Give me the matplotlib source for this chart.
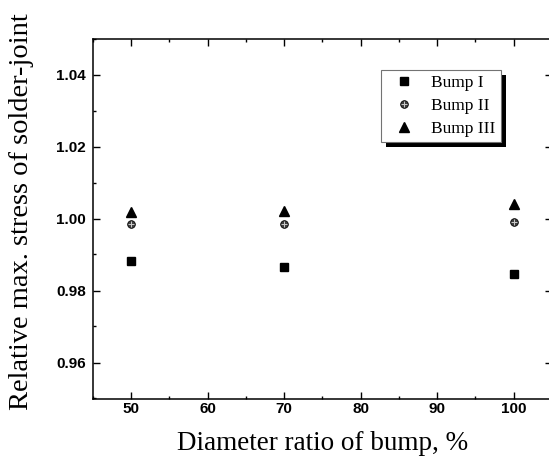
import matplotlib
matplotlib.use("Agg")
import matplotlib.pyplot as plt
from matplotlib.ticker import MultipleLocator
from matplotlib.patches import Rectangle
from matplotlib.transforms import IdentityTransform
from matplotlib.legend_handler import HandlerTuple

# ---- data ----
diameter_ratio = [50, 70, 100]
bump1 = [0.9883, 0.9865, 0.9845]
bump2 = [0.9985, 0.9985, 0.9989]
bump3 = [1.0018, 1.0022, 1.0040]
series_labels = ["Bump I", "Bump II", "Bump III"]
x_ticks = [50, 60, 70, 80, 90, 100]
y_ticks = [0.96, 0.98, 1.00, 1.02, 1.04]
x_label = "Diameter ratio of bump, %"
y_label = "Relative max. stress of solder-joint"

W, H = 549, 457
fig = plt.figure(figsize=(W / 100, H / 100), dpi=100)
ax = fig.add_axes([92.8 / W, (H - 398.5) / H, (552 - 92.8) / W, 360 / H])

ms = 5.5
h1, = ax.plot(diameter_ratio, bump1, linestyle="none", marker="s", ms=ms,
              color="black", mec="black")
h2a, = ax.plot(diameter_ratio, bump2, linestyle="none", marker="o", ms=ms,
               mfc="0.25", mec="black", mew=0.6)
h2b, = ax.plot(diameter_ratio, bump2, linestyle="none", marker="+", ms=ms * 0.8,
               mec="0.8", mew=0.7)
h3, = ax.plot(diameter_ratio, bump3, linestyle="none", marker="^", ms=ms + 1,
              color="black", mec="black")

ax.set_xlim(45, 105)
ax.set_ylim(0.95, 1.05)
ax.set_xticks(x_ticks)
ax.set_yticks(y_ticks)
ax.set_yticklabels([f"{v:.2f}" for v in y_ticks])
ax.xaxis.set_minor_locator(MultipleLocator(5))
ax.yaxis.set_minor_locator(MultipleLocator(0.01))
ax.tick_params(which="both", direction="in", top=True, right=True, width=1.0)
ax.tick_params(which="major", length=5)
ax.tick_params(which="minor", length=2.5)
ax.tick_params(axis="x", which="major", pad=2.5)
ax.tick_params(axis="y", which="major", pad=5)
for lab in ax.get_xticklabels() + ax.get_yticklabels():
    lab.set_fontfamily("Liberation Sans")
    lab.set_fontweight("bold")
    lab.set_fontsize(11)
for s in ax.spines.values():
    s.set_linewidth(1.1)

ax.set_xlabel(x_label, fontfamily="Liberation Serif", fontsize=19.5, va="center")
ax.xaxis.set_label_coords((323 - 92.8) / 459.2, (398.5 - 443) / 360)
ax.set_ylabel(y_label, fontfamily="Liberation Serif", fontsize=20.5, va="center")
ax.yaxis.set_label_coords((22 - 92.8) / 459.2, (398.5 - 211.5) / 360)

leg = ax.legend([h1, (h2a, h2b), h3], series_labels,
                handler_map={tuple: HandlerTuple(ndivide=1)},
                loc="upper left",
                bbox_to_anchor=((381 - 92.8) / 459.2, (398.5 - 70) / 360),
                borderaxespad=0, fancybox=False, frameon=True,
                edgecolor="0.45", framealpha=1,
                prop={"family": "Liberation Serif", "size": 12.5},
                handlelength=2.1, handletextpad=0.5, labelspacing=0.38,
                borderpad=0.3)
leg.get_frame().set_linewidth(0.8)
leg.set_zorder(5)

fig.canvas.draw()
bb = leg.get_window_extent()
shadow = Rectangle((bb.x0 + 5, bb.y0 - 5), bb.width, bb.height,
                   transform=IdentityTransform(), facecolor="black",
                   edgecolor="none", zorder=4)
ax.add_patch(shadow)

fig.savefig("out.png", dpi=100)
